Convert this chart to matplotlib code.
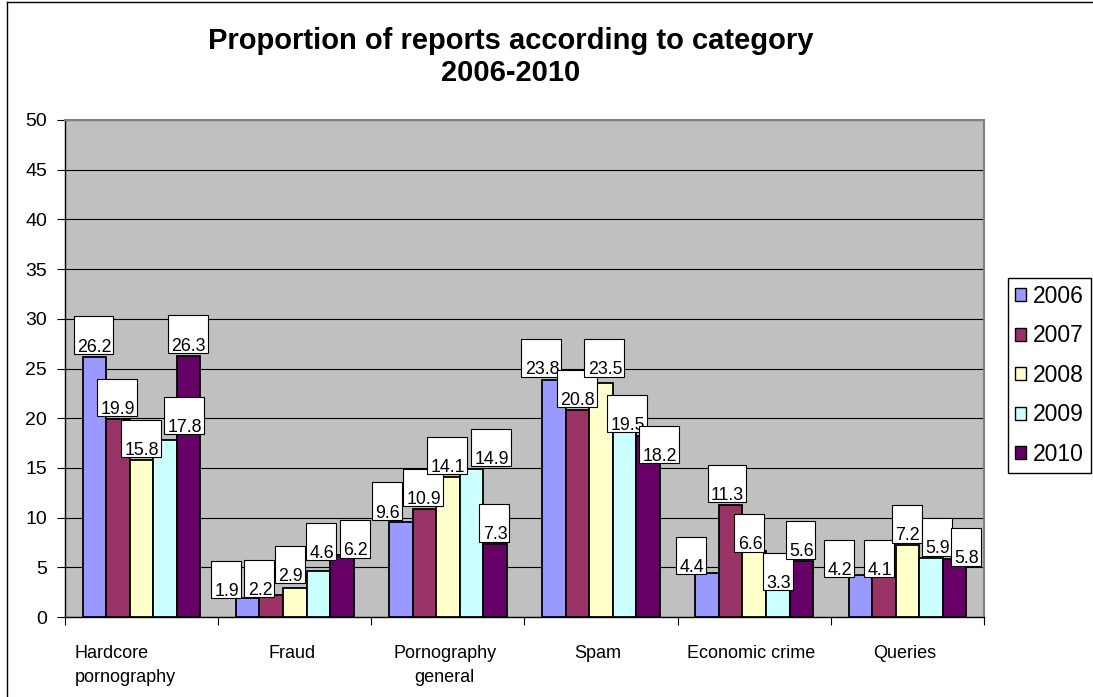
import matplotlib
matplotlib.use("Agg")
import matplotlib.pyplot as plt
from matplotlib.path import Path
from matplotlib.patches import Rectangle
from matplotlib.lines import Line2D

plt.rcParams['font.family'] = ['Liberation Sans', 'DejaVu Sans']

# ---- data ----
categories = ["Hardcore\npornography", "Fraud", "Pornography\ngeneral",
              "Spam", "Economic crime", "Queries"]
years = ["2006", "2007", "2008", "2009", "2010"]
v2006 = [26.2, 1.9, 9.6, 23.8, 4.4, 4.2]
v2007 = [19.9, 2.2, 10.9, 20.8, 11.3, 4.1]
v2008 = [15.8, 2.9, 14.1, 23.5, 6.6, 7.2]
v2009 = [17.8, 4.6, 14.9, 19.5, 3.3, 5.9]
v2010 = [26.3, 6.2, 7.3, 18.2, 5.6, 5.8]
yticks = [0, 5, 10, 15, 20, 25, 30, 35, 40, 45, 50]

series = [v2006, v2007, v2008, v2009, v2010]
colors = ["#9999FF", "#993366", "#FFFFCC", "#CCFFFF", "#660066"]

# hand-placed nudges of the value boxes (pixels, x right / y up)
label_nudge = [
    [(0, 0), (-21, -3), (-13, -1), (-12, 1), (-15, -4), (-20, -5)],
    [(0, 0), (-11, -5), (0, 0), (0, 0), (-3, 0), (-4, -4)],
    [(0, 0), (-4, 2), (0, 0), (4, 4), (-4, -3), (0, 0)],
    [(20, 3), (4, 8), (20, 0), (3, -12), (1, -9), (7, 0)],
    [(0, 0), (14, -5), (0, 0), (12, -30), (0, 0), (12, -9)],
]

W, H = 1093, 697
fig = plt.figure(figsize=(W / 100, H / 100), dpi=100)
ax = fig.add_axes([65 / W, 1 - 617 / H, (984 - 65) / W, (617 - 120) / H])
ax.set_facecolor("#C0C0C0")

n = len(series)
bw = 1 / 6.5  # 150% gap width


def label_box(x0, y0, width, height, mutation_size):
    m = mutation_size
    left = x0 - 0.2 * m
    right = x0 + width + 0.1 * m
    bottom = y0 + 0.1 * m
    top = bottom + 2.1 * m
    return Path([(left, bottom), (right, bottom), (right, top),
                 (left, top), (left, bottom)], closed=True)


for j, (vals, col) in enumerate(zip(series, colors)):
    xs = [i + 0.5 + (j - (n - 1) / 2) * bw for i in range(len(categories))]
    ax.bar(xs, vals, width=bw, color=col, edgecolor="black", linewidth=1.3,
           zorder=3)
    for i, (x, v) in enumerate(zip(xs, vals)):
        dx, dy = label_nudge[j][i]
        ax.annotate(f"{v:.1f}", xy=(x, v), xytext=(dx * 0.72, (5 + dy) * 0.72),
                    textcoords="offset points", ha="center", va="baseline",
                    fontsize=12.8, zorder=6,
                    bbox=dict(boxstyle=label_box, fc="white", ec="black",
                              lw=0.8))

ax.set_xlim(0, len(categories))
ax.set_ylim(0, 50)
ax.set_yticks(yticks)
ax.set_yticklabels([str(t) for t in yticks], fontsize=14)
ax.tick_params(axis="y", direction="out", length=5.8, width=0.8, pad=7,
               color="black")
ax.set_xticks(range(len(categories) + 1))
ax.set_xticklabels([])
ax.tick_params(axis="x", direction="out", length=5.8, width=0.8, color="black")
ax.yaxis.grid(True, color="black", linewidth=0.8)
ax.set_axisbelow(True)

for side in ("top", "right"):
    ax.spines[side].set_color("#808080")
    ax.spines[side].set_linewidth(1.5)
for side in ("left", "bottom"):
    ax.spines[side].set_color("black")
    ax.spines[side].set_linewidth(1)

# category names under the axis
xt = ax.get_xaxis_transform()
cat_y = (617 - 645) / 497
for i, name in enumerate(categories):
    if i == 0:
        ax.text((75 - 65) / 153.2, cat_y, name, transform=xt, ha="left",
                va="top", fontsize=13, multialignment="left", linespacing=1.5)
    else:
        ax.text(i + 0.5 - 0.02, cat_y, name, transform=xt, ha="center",
                va="top", fontsize=13, multialignment="center",
                linespacing=1.5)

handles = [Rectangle((0, 0), 1, 1, fc=c, ec="black", lw=1) for c in colors]
leg = fig.legend(handles, years, loc="upper left",
                 bbox_to_anchor=(1008 / W, 1 - 278 / H),
                 bbox_transform=fig.transFigure, borderaxespad=0,
                 fontsize=16.5, frameon=True, fancybox=False,
                 edgecolor="black", framealpha=1, handlelength=0.5,
                 handleheight=0.5, handletextpad=0.3, labelspacing=0.72,
                 borderpad=0.3)
leg.get_frame().set_linewidth(1)

fig.text(511 / W, 1 - 57 / H,
         "Proportion of reports according to category\n2006-2010",
         ha="center", va="center", fontsize=21, fontweight="bold",
         linespacing=1.15)

# chart-area frame
fig.add_artist(Line2D([6.5 / W, 6.5 / W], [0, 1 - 1.5 / H],
                      transform=fig.transFigure, color="black", lw=1))
fig.add_artist(Line2D([6.5 / W, 1], [1 - 1.5 / H, 1 - 1.5 / H],
                      transform=fig.transFigure, color="black", lw=1))

fig.savefig("out.png", dpi=100)
